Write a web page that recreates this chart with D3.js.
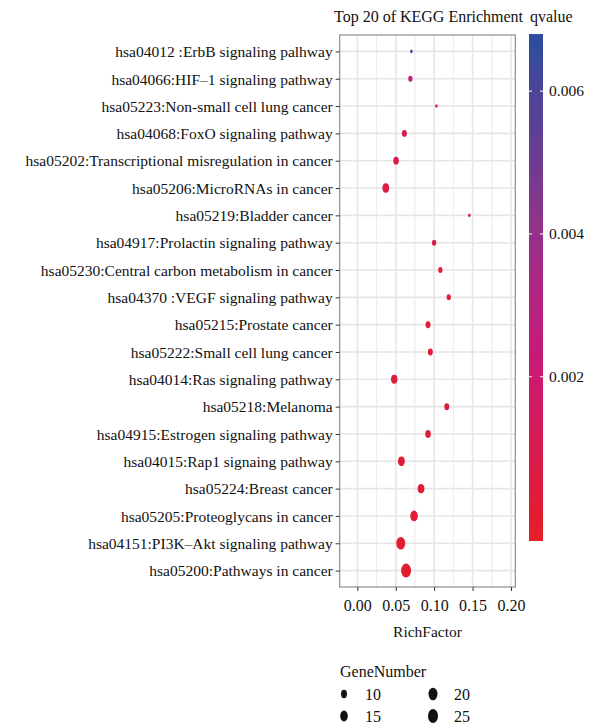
<!DOCTYPE html>
<html>
<head>
<meta charset="utf-8">
<script src="https://cdn.jsdelivr.net/npm/d3@7"></script>
<style>
  html, body { margin: 0; padding: 0; background: #ffffff; }
  svg { display: block; font-family: "Liberation Serif", "DejaVu Serif", serif; }
</style>
</head>
<body>
<svg id="chart" width="602" height="728"></svg>
<script>
// KEGG pathways, listed top to bottom
const pathways = [
  "hsa04012 :ErbB signaling palhway",
  "hsa04066:HIF\u20131 signaling pathway",
  "hsa05223:Non-small cell lung cancer",
  "hsa04068:FoxO signaling pathway",
  "hsa05202:Transcriptional misregulation in cancer",
  "hsa05206:MicroRNAs in cancer",
  "hsa05219:Bladder cancer",
  "hsa04917:Prolactin signaling pathway",
  "hsa05230:Central carbon metabolism in cancer",
  "hsa04370 :VEGF signaling pathway",
  "hsa05215:Prostate cancer",
  "hsa05222:Small cell lung cancer",
  "hsa04014:Ras signaling pathway",
  "hsa05218:Melanoma",
  "hsa04915:Estrogen signaling pathway",
  "hsa04015:Rap1 signaing pathway",
  "hsa05224:Breast cancer",
  "hsa05205:Proteoglycans in cancer",
  "hsa04151:PI3K\u2013Akt signaling pathway",
  "hsa05200:Pathways in cancer"
];
const richFactor = [0.0703, 0.0690, 0.1029, 0.0612, 0.0504, 0.0370, 0.1458, 0.0999, 0.1080, 0.1190,
                    0.0920, 0.0950, 0.0480, 0.1164, 0.0920, 0.0573, 0.0829, 0.0738, 0.0565, 0.0634];
const geneNumber = [6, 7, 6, 8, 9, 12, 6, 7, 7, 7, 8, 8, 11, 8, 9, 12, 12, 15, 20, 25];
const qValue = [0.0066, 0.0025, 0.0021, 0.0009, 0.0008, 0.0007, 0.0010, 0.0006, 0.0005, 0.0004,
                0.0003, 0.0004, 0.0004, 0.0003, 0.0003, 0.0002, 0.0002, 0.0001, 0.0001, 0.00001];

const xTicks = [0, 0.05, 0.10, 0.15, 0.20];
const xMinorTicks = [0.025, 0.075, 0.125, 0.175];
const richFactorLimits = [-0.023, 0.2056];
const qTicks = [0.002, 0.004, 0.006];
const qLimits = [-0.0003, 0.0068];
const sizeBreaks = [10, 15, 20, 25];
const geneRange = [6, 25];
// colour ramp from low q (red) to high q (blue)
const qPalette = ["#E61E25", "#DD1C43", "#D21A60", "#C51A79", "#AF2684", "#90338B", "#6E3C91", "#4E4497", "#2B4E9F"];

const fontFamily = '"Liberation Serif", "DejaVu Serif", serif';
const svg = d3.select("#chart");
const textColor = "#111111";

const panel = { left: 339.7, right: 515.3, top: 35, bottom: 587 };

const x = d3.scaleLinear().domain(richFactorLimits).range([panel.left, panel.right]);
const y = d3.scalePoint().domain(pathways).range([panel.top, panel.bottom]).padding(0.6);

// colour scale
const qStops = qPalette.map((_, i) => qLimits[0] + i * (qLimits[1] - qLimits[0]) / (qPalette.length - 1));
const color = d3.scaleLinear().domain(qStops).range(qPalette).interpolate(d3.interpolateRgb).clamp(true);

// size scale: area-proportional between smallest and largest gene counts
const heightScale = d3.scaleLinear().domain([0, 1]).range([3.6, 14]);
const dotHeight = v => heightScale(Math.sqrt((v - geneRange[0]) / (geneRange[1] - geneRange[0])));
const aspect = 1.4;

// panel background and grid
const g = svg.append("g");
g.append("rect")
  .attr("x", panel.left).attr("y", panel.top)
  .attr("width", panel.right - panel.left).attr("height", panel.bottom - panel.top)
  .attr("fill", "#ffffff");

g.selectAll("line.minor").data(xMinorTicks).enter().append("line")
  .attr("x1", d => x(d)).attr("x2", d => x(d))
  .attr("y1", panel.top).attr("y2", panel.bottom)
  .attr("stroke", "#eeeeee").attr("stroke-width", 1.2);

g.selectAll("line.vmajor").data(xTicks).enter().append("line")
  .attr("x1", d => x(d)).attr("x2", d => x(d))
  .attr("y1", panel.top).attr("y2", panel.bottom)
  .attr("stroke", "#e6e6e6").attr("stroke-width", 1.6);

g.selectAll("line.hmajor").data(pathways).enter().append("line")
  .attr("x1", panel.left).attr("x2", panel.right)
  .attr("y1", d => y(d)).attr("y2", d => y(d))
  .attr("stroke", "#e6e6e6").attr("stroke-width", 1.6);

// points
const data = pathways.map((p, i) => ({ p, rf: richFactor[i], n: geneNumber[i], q: qValue[i] }));
g.selectAll("ellipse.pt").data(data).enter().append("ellipse")
  .attr("cx", d => x(d.rf)).attr("cy", d => y(d.p))
  .attr("rx", d => dotHeight(d.n) / 2 / aspect)
  .attr("ry", d => dotHeight(d.n) / 2)
  .attr("fill", d => color(d.q));

// panel border
g.append("rect")
  .attr("x", panel.left).attr("y", panel.top)
  .attr("width", panel.right - panel.left).attr("height", panel.bottom - panel.top)
  .attr("fill", "none").attr("stroke", "#8c8c8c").attr("stroke-width", 1.2);

// axes
const yAxis = svg.append("g")
  .attr("transform", `translate(${panel.left},0)`)
  .call(d3.axisLeft(y).tickSize(4).tickPadding(3))
  .attr("font-family", fontFamily).attr("font-size", null);
yAxis.select(".domain").remove();
yAxis.selectAll(".tick line").attr("stroke", "#333333");
yAxis.selectAll(".tick text")
  .attr("fill", textColor).style("font-size", "15.5px").attr("dy", "0.34em");

const xAxis = svg.append("g")
  .attr("transform", `translate(0,${panel.bottom})`)
  .call(d3.axisBottom(x).tickValues(xTicks).tickFormat(d3.format(".2f")).tickSize(4).tickPadding(9))
  .attr("font-family", fontFamily).attr("font-size", null);
xAxis.select(".domain").remove();
xAxis.selectAll(".tick line").attr("stroke", "#333333");
xAxis.selectAll(".tick text")
  .attr("fill", textColor).style("font-size", "16px");

svg.append("text")
  .attr("x", (panel.left + panel.right) / 2).attr("y", 637)
  .attr("text-anchor", "middle").attr("fill", textColor)
  .style("font-size", "15.5px").text("RichFactor");

// title
svg.append("text")
  .attr("x", 334).attr("y", 22)
  .attr("fill", textColor).style("font-size", "16px")
  .text("Top 20 of KEGG Enrichment");

// colour bar legend
const bar = { x: 529, w: 14, top: 34, bottom: 541 };
svg.append("text")
  .attr("x", 530).attr("y", 22)
  .attr("fill", textColor).style("font-size", "16px").text("qvalue");

const qy = d3.scaleLinear().domain(qLimits).range([bar.bottom, bar.top]);
const defs = svg.append("defs");
const grad = defs.append("linearGradient")
  .attr("id", "qgrad").attr("gradientUnits", "userSpaceOnUse")
  .attr("x1", 0).attr("x2", 0).attr("y1", bar.bottom).attr("y2", bar.top);
d3.range(0, 41).forEach(i => {
  const v = qLimits[0] + i / 40 * (qLimits[1] - qLimits[0]);
  grad.append("stop").attr("offset", `${i / 40 * 100}%`).attr("stop-color", color(v));
});
svg.append("rect")
  .attr("x", bar.x).attr("y", bar.top).attr("width", bar.w).attr("height", bar.bottom - bar.top)
  .attr("fill", "url(#qgrad)");

const qTickG = svg.append("g").selectAll("g").data(qTicks).enter().append("g");
qTickG.append("line")
  .attr("x1", bar.x).attr("x2", bar.x + 3)
  .attr("y1", d => qy(d)).attr("y2", d => qy(d))
  .attr("stroke", "#ffffff").attr("stroke-width", 1);
qTickG.append("line")
  .attr("x1", bar.x + bar.w - 3).attr("x2", bar.x + bar.w)
  .attr("y1", d => qy(d)).attr("y2", d => qy(d))
  .attr("stroke", "#ffffff").attr("stroke-width", 1);
qTickG.append("text")
  .attr("x", 549).attr("y", d => qy(d)).attr("dy", "0.34em")
  .attr("fill", textColor).style("font-size", "15.5px")
  .text(d => d3.format(".3f")(d));

// size legend
svg.append("text")
  .attr("x", 340).attr("y", 677)
  .attr("fill", textColor).style("font-size", "16px").text("GeneNumber");

const sizeItems = svg.append("g").selectAll("g").data(sizeBreaks).enter().append("g")
  .attr("transform", (d, i) => `translate(${344 + Math.floor(i / 2) * 89},${694 + (i % 2) * 22})`);
sizeItems.append("ellipse")
  .attr("cx", 0).attr("cy", 0)
  .attr("rx", d => dotHeight(d) / 2 / aspect)
  .attr("ry", d => dotHeight(d) / 2)
  .attr("fill", "#111111");
sizeItems.append("text")
  .attr("x", 21).attr("y", 0).attr("dy", "0.36em")
  .attr("fill", textColor).style("font-size", "16px")
  .text(d => d);
</script>
</body>
</html>
